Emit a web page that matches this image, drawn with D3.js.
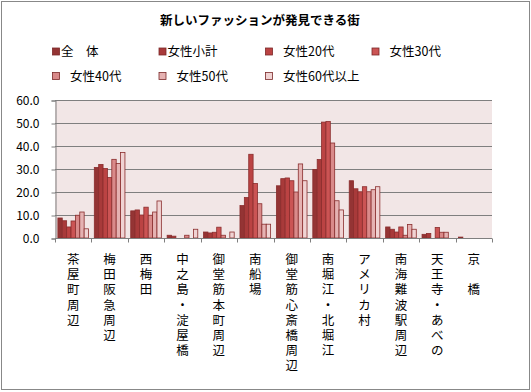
<!DOCTYPE html>
<meta charset="utf-8">
<head>
<style>
    body { margin: 0; background: #fff; }
    text { font-family: "Noto Sans CJK JP", sans-serif; fill: #000; }
    .cat-label { font-family: "Liberation Sans", "Noto Sans CJK JP", sans-serif; }
</style>
</head>
<body>
<div id="chart"></div>
<script src="https://d3js.org/d3.v7.min.js"></script>
<script>
    // chart data
    let categories = ['茶屋町周辺', '梅田阪急周辺', '西梅田', '中之島・淀屋橋', '御堂筋本町周辺', '南船場',
        '御堂筋心斎橋周辺', '南堀江・北堀江', 'アメリカ村', '南海難波駅周辺', '天王寺・あべの', '京　橋'];
    let series_names = ['全　体', '女性小計', ' 女性20代', ' 女性30代', ' 女性40代', ' 女性50代', ' 女性60代以上'];
    let total      = [8.7, 30.7, 11.8, 1.2, 2.6, 14.1, 22.7, 29.8, 24.9, 4.8, 1.6, 0.4];
    let female_all = [7.5, 32.0, 12.2, 0.8, 2.2, 17.6, 25.8, 34.1, 21.4, 3.8, 2.0, 0];
    let female_20s = [4.8, 30.2, 10.0, 0, 2.5, 36.4, 26.1, 50.4, 20.1, 2.6, 0, 0];
    let female_30s = [7.4, 26.3, 13.4, 0, 4.7, 23.7, 24.9, 50.7, 22.3, 4.8, 4.6, 0];
    let female_40s = [9.9, 34.2, 9.9, 1.2, 1.2, 14.9, 20.0, 41.3, 20.1, 1.2, 2.5, 0];
    let female_50s = [11.3, 32.4, 11.3, 0, 0, 6.0, 32.2, 16.2, 21.0, 5.9, 2.5, 0];
    let female_60s = [4.0, 37.2, 16.1, 3.8, 2.6, 6.0, 24.9, 12.2, 22.3, 3.8, 0, 0];
    let y_ticks = [0, 10, 20, 30, 40, 50, 60];

    let all_series = [total, female_all, female_20s, female_30s, female_40s, female_50s, female_60s];
    let colors = ['#943434', '#a83a3a', '#bb4343', '#cb5454', '#d98a8a', '#e5b2b2', '#f0d3d3'];

    // chart default setting
    let svgWidth = 531;
    let svgHeight = 392;
    let plot = {left: 55, right: 492, top: 100, bottom: 238};

    let svg = d3.select('#chart')
        .append('svg')
        .attr('width', svgWidth)
        .attr('height', svgHeight);

    // outer frame
    svg.append('rect')
        .attr('x', 1.5).attr('y', 1.5)
        .attr('width', 528).attr('height', 388)
        .attr('fill', '#fff')
        .attr('stroke', '#888');

    // title
    svg.append('text')
        .attr('x', 260).attr('y', 25)
        .attr('text-anchor', 'middle')
        .style('font-size', '12.5px')
        .style('font-weight', 'bold')
        .text('新しいファッションが発見できる街');

    // scales
    let x = d3.scaleBand()
        .domain(categories)
        .range([plot.left, plot.right]);
    let x_inner = d3.scaleBand()
        .domain(d3.range(series_names.length))
        .range([0, x.bandwidth()])
        .paddingOuter(0.66);
    let y = d3.scaleLinear()
        .domain([0, 60])
        .range([plot.bottom, plot.top]);

    // plot background
    svg.append('rect')
        .attr('x', plot.left).attr('y', plot.top)
        .attr('width', plot.right - plot.left)
        .attr('height', plot.bottom - plot.top)
        .attr('fill', '#f2e6e6');

    // grid lines
    svg.append('g')
        .selectAll('line')
        .data(y_ticks.filter(d => d > 0))
        .enter()
        .append('line')
        .attr('x1', plot.left).attr('x2', plot.right)
        .attr('y1', d => Math.round(y(d)) + 0.5)
        .attr('y2', d => Math.round(y(d)) + 0.5)
        .attr('stroke', '#7f7f7f');

    // bars
    let groups = svg.append('g')
        .selectAll('g')
        .data(all_series)
        .enter()
        .append('g')
        .attr('fill', (d, i) => colors[i]);
    groups.each(function(values, si) {
        d3.select(this).selectAll('rect')
            .data(values.map((v, ci) => ({cat: categories[ci], value: v})).filter(d => d.value > 0))
            .enter()
            .append('rect')
            .attr('x', d => x(d.cat) + x_inner(si))
            .attr('y', d => y(d.value))
            .attr('width', x_inner.bandwidth())
            .attr('height', d => y(0) - y(d.value))
            .attr('stroke', '#8a2d2d')
            .attr('stroke-width', 0.8);
    });

    // y axis
    let y_axis = svg.append('g')
        .attr('transform', `translate(${plot.left + 0.5}, 0.5)`)
        .call(d3.axisLeft(y).tickValues(y_ticks).tickFormat(d3.format('.1f')).tickSize(4).tickPadding(12));
    y_axis.selectAll('path, line').attr('stroke', '#7f7f7f');
    y_axis.selectAll('text').style('font-size', '12px').style('font-family', '"Noto Sans CJK JP", sans-serif');

    // x axis
    let x_axis = svg.append('g')
        .attr('transform', `translate(0, ${plot.bottom + 0.5})`);
    x_axis.append('line')
        .attr('x1', plot.left).attr('x2', plot.right)
        .attr('stroke', '#7f7f7f');
    x_axis.selectAll('.tick')
        .data(categories.concat(['end']))
        .enter()
        .append('line')
        .attr('x1', (d, i) => Math.round(plot.left + i * x.step()) + 0.5)
        .attr('x2', (d, i) => Math.round(plot.left + i * x.step()) + 0.5)
        .attr('y1', 0).attr('y2', 4)
        .attr('stroke', '#7f7f7f');

    // vertical category labels, one character per line
    let labels = svg.append('g')
        .selectAll('g')
        .data(categories)
        .enter()
        .append('g');
    labels.each(function(name) {
        let cx = x(name) + x.bandwidth() / 2;
        d3.select(this).selectAll('text')
            .data(Array.from(name).map((c, i) => ({c: c, i: i})).filter(d => d.c !== '　'))
            .enter()
            .append('text')
            .attr('class', 'cat-label')
            .attr('x', cx)
            .attr('y', d => 264 + d.i * 15.2)
            .attr('text-anchor', 'middle')
            .style('font-size', '12.5px')
            .text(d => d.c);
    });

    // legend
    let legend_cols = [52, 158.5, 265, 371.5];
    let legend_rows = [51.5, 76];
    let legend = svg.append('g')
        .selectAll('g')
        .data(series_names)
        .enter()
        .append('g')
        .attr('transform', (d, i) => `translate(${legend_cols[i % 4]}, ${legend_rows[Math.floor(i / 4)]})`);
    legend.append('rect')
        .attr('x', 0.5).attr('y', -3.5)
        .attr('width', 7).attr('height', 7)
        .attr('fill', (d, i) => colors[i])
        .attr('stroke', '#7a2828')
        .attr('stroke-width', 0.8);
    legend.append('text')
        .attr('x', d => d.startsWith(' ') ? 18 : 9)
        .attr('y', 4.5)
        .style('font-size', '12.5px')
        .text(d => d.trim());
</script>
</body>
